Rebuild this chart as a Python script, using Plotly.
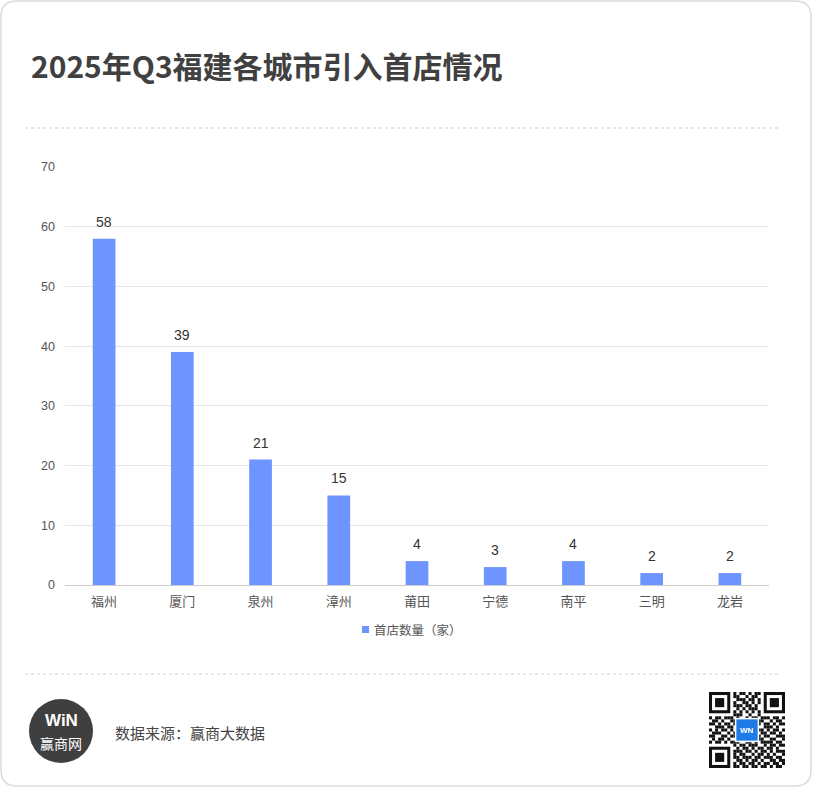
import plotly.graph_objects as go

W, H = 813, 788

cities = ["福州", "厦门", "泉州", "漳州", "莆田", "宁德", "南平", "三明", "龙岩"]
first_stores = [58, 39, 21, 15, 4, 3, 4, 2, 2]
y_ticks = [0, 10, 20, 30, 40, 50, 60, 70]

title_text = "2025年Q3福建各城市引入首店情况"
series_name = "首店数量（家）"
source_text = "数据来源：赢商大数据"

BAR_COLOR = "#6D94FF"

def px(x):
    return x / W

def py(y):
    return 1 - y / H

fig = go.Figure()
fig.add_trace(go.Bar(
    x=cities, y=first_stores, name=series_name,
    marker=dict(color=BAR_COLOR, line=dict(width=0)),
    width=0.29, showlegend=False,
))

shapes = []
r = 16
x0, y0, x1, y1 = 1, 1, 811, 786
def P(x, y):
    return f"{px(x):.5f},{py(y):.5f}"
path = (f"M {P(x0+r,y0)} L {P(x1-r,y0)} Q {P(x1,y0)} {P(x1,y0+r)} "
        f"L {P(x1,y1-r)} Q {P(x1,y1)} {P(x1-r,y1)} L {P(x0+r,y1)} "
        f"Q {P(x0,y1)} {P(x0,y1-r)} L {P(x0,y0+r)} Q {P(x0,y0)} {P(x0+r,y0)} Z")
shapes.append(dict(type="path", path=path, xref="paper", yref="paper",
                   line=dict(color="#dcdcdc", width=1.5), layer="below"))
for yy in (128, 674):
    shapes.append(dict(type="line", xref="paper", yref="paper",
                       x0=px(25), x1=px(781), y0=py(yy), y1=py(yy),
                       line=dict(color="#cfcfcf", width=1, dash="dot")))
shapes.append(dict(type="circle", xref="paper", yref="paper",
                   x0=px(29), x1=px(93), y0=py(763), y1=py(699),
                   fillcolor="#3f3f3f", line=dict(width=0)))
# legend swatch
shapes.append(dict(type="rect", xref="paper", yref="paper",
                   x0=px(362), x1=px(369), y0=py(633), y1=py(626),
                   fillcolor=BAR_COLOR, line=dict(width=0)))

qx0, qy0, qs = 709, 692, 76
n = 25
m = qs / n
def sq(cx, cy, w, h, color):
    shapes.append(dict(type="rect", xref="paper", yref="paper",
                       x0=px(cx), x1=px(cx + w), y0=py(cy + h), y1=py(cy),
                       fillcolor=color, line=dict(width=0)))
def finder(i, j):
    sq(qx0 + i*m, qy0 + j*m, 7*m, 7*m, "#111111")
    sq(qx0 + (i+1)*m, qy0 + (j+1)*m, 5*m, 5*m, "white")
    sq(qx0 + (i+2)*m, qy0 + (j+2)*m, 3*m, 3*m, "#111111")
pattern = [
    "0000000010110101100000000",
    "0000000011001011000000000",
    "0000000001110110100000000",
    "0000000010011010100000000",
    "0000000011101101000000000",
    "0000000001010111000000000",
    "0000000010101010100000000",
    "0000000011100100100000000",
    "1011011101001011011101101",
    "0110100110110100110010110",
    "1101011011010011101101011",
    "0011101100101101001110100",
    "1010110101100110110101101",
    "0111001011011010011011010",
    "1100110110101101101100111",
    "0101101001110010110011001",
    "1011010111001101011110110",
    "0000000010110111001011011",
    "0000000001011010110110100",
    "0000000011101101011010111",
    "0000000010110010110101001",
    "0000000011011101101110110",
    "0000000001101011010011011",
    "0000000010110110101101101",
    "0000000011011011011010110",
]
for j, row in enumerate(pattern):
    for i, c in enumerate(row):
        if c == "1":
            sq(qx0 + i*m, qy0 + j*m, m, m, "#111111")
finder(0, 0)
finder(18, 0)
finder(0, 18)
sq(qx0 + 8.5*m, qy0 + 8.5*m, 8*m, 8*m, "white")
sq(qx0 + 9*m, qy0 + 9*m, 7*m, 7*m, "#1E7BE6")

annotations = [
    dict(text=title_text, xref="paper", yref="paper", x=px(29), y=py(65),
         xanchor="left", yanchor="middle", showarrow=False,
         font=dict(size=30, color="#404040", family="Noto Sans CJK SC", weight="bold")),
    dict(text="<b>WiN</b>", xref="paper", yref="paper", x=px(61), y=py(720),
         xanchor="center", yanchor="middle", showarrow=False,
         font=dict(size=17, color="white", family="Liberation Sans")),
    dict(text="赢商网", xref="paper", yref="paper", x=px(61), y=py(743),
         xanchor="center", yanchor="middle", showarrow=False,
         font=dict(size=14, color="white", family="Noto Sans CJK SC")),
    dict(text=source_text, xref="paper", yref="paper", x=px(113), y=py(732),
         xanchor="left", yanchor="middle", showarrow=False,
         font=dict(size=15, color="#444444", family="Noto Sans CJK SC")),
    dict(text="<b>WN</b>", xref="paper", yref="paper", x=px(qx0 + 12.5*m), y=py(qy0 + 12.5*m),
         xanchor="center", yanchor="middle", showarrow=False,
         font=dict(size=8, color="white", family="Liberation Sans")),
    dict(text=series_name, xref="paper", yref="paper", x=px(372), y=py(629.5),
         xanchor="left", yanchor="middle", showarrow=False,
         font=dict(size=12.5, color="#555555", family="Noto Sans CJK SC")),
]
# value labels above bars
for c, v in zip(cities, first_stores):
    annotations.append(dict(text=str(v), x=c, y=v, xref="x", yref="y",
                            yanchor="middle", yshift=17, showarrow=False,
                            font=dict(size=14, color="#333333", family="Liberation Sans")))

fig.update_layout(
    width=W, height=H,
    margin=dict(l=0, r=0, t=0, b=0, pad=0, autoexpand=False),
    paper_bgcolor="white", plot_bgcolor="white",
    font=dict(family="Noto Sans CJK SC", color="#555555", size=12),
    xaxis=dict(domain=[px(65), px(769)], showgrid=False, showline=True,
               linecolor="#cccccc", linewidth=1, ticks="", automargin=False,
               ticklabelstandoff=4,
               tickfont=dict(size=13, color="#555555"), fixedrange=True),
    yaxis=dict(domain=[py(585), py(167)], range=[0, 70], tickvals=y_ticks,
               showgrid=True, gridcolor="#e6e6e6", gridwidth=1, zeroline=False,
               showline=False, ticks="", ticklabelstandoff=9, automargin=False,
               tickfont=dict(size=12.5, color="#555555", family="Liberation Sans"),
               fixedrange=True),
    showlegend=False,
    shapes=shapes,
    annotations=annotations,
    bargap=0.7,
)

fig.write_html(
    "out.html",
    config={"displayModeBar": False},
    post_script="document.body.style.margin='0';document.body.style.overflow='hidden';document.documentElement.style.overflow='hidden';",
)
